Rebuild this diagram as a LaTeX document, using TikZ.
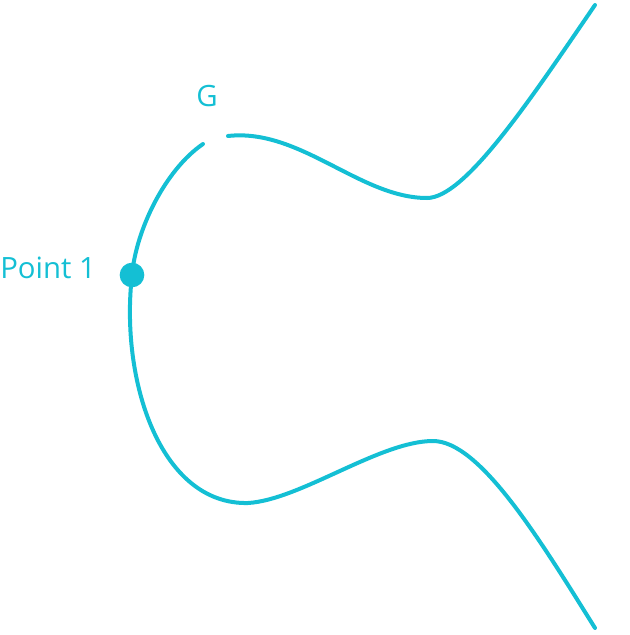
\documentclass[tikz,border=0pt]{standalone}
\usepackage{fontspec}
\setmainfont{Open Sans}
\usetikzlibrary{positioning}
\definecolor{curvecyan}{HTML}{14BFD4}

\begin{document}
\begin{tikzpicture}[
  x=0.75pt,y=-0.75pt,
  curve/.style={curvecyan,line width=3pt,line cap=round},
  dot/.style={circle,fill=curvecyan,minimum size=18.5pt,inner sep=0pt},
  lbl/.style={text=curvecyan,font=\fontsize{22}{26}\selectfont,inner sep=0pt}
]
  \useasboundingbox (0,0) rectangle (630,635);

  \node[dot] (pt1) at (132,275) {};
  \node[lbl,left=17.5pt of pt1,yshift=5pt] (pt1label) {Point 1};
  \node[lbl] (glabel) at (207,96) {G};

  % left branch, through point 1
  \draw[curve] (203,144) .. controls (165,170) and (136,230) .. (pt1.center)
    .. controls (120,380) and (160,505) .. (248,503)
    .. controls (300,500) and (380,441) .. (433,441)
    .. controls (480,441) and (540,540) .. (595,628);
  % right branch, after the gap at G
  \draw[curve] (228,136) .. controls (300,128) and (360,198) .. (427,198)
    .. controls (465,198) and (530,100) .. (595,5);
\end{tikzpicture}
\end{document}
